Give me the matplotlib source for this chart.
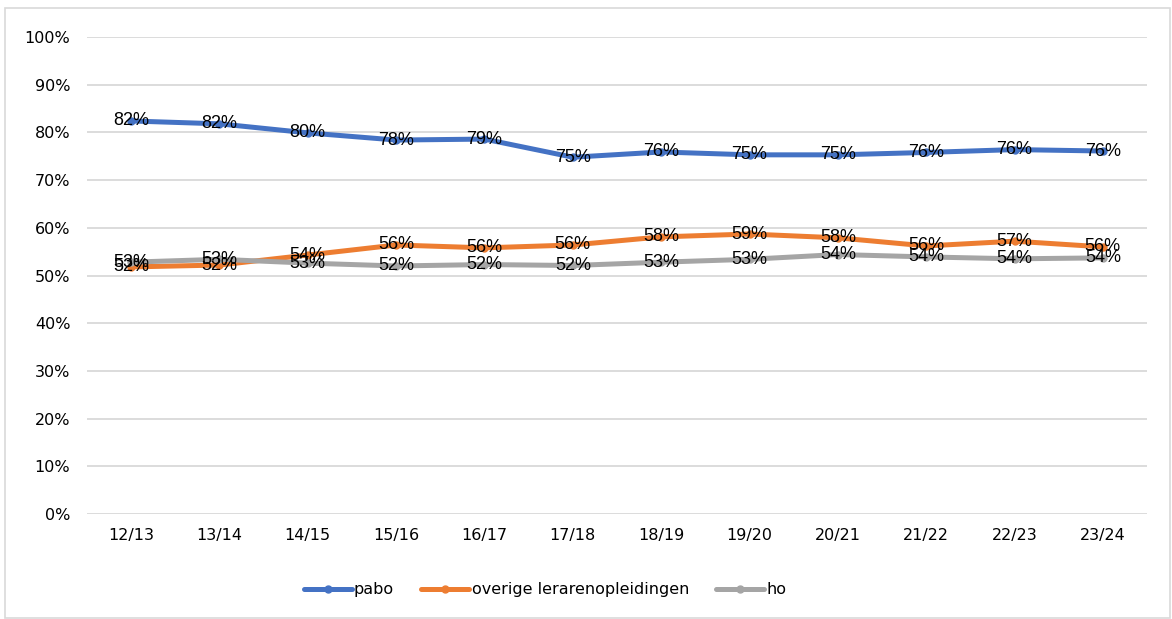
import matplotlib
matplotlib.use("Agg")
import matplotlib.pyplot as plt
from matplotlib.patches import Rectangle
from matplotlib import font_manager

categories = ["12/13", "13/14", "14/15", "15/16", "16/17", "17/18",
              "18/19", "19/20", "20/21", "21/22", "22/23", "23/24"]
pabo = [82.4, 81.8, 79.9, 78.4, 78.6, 74.8, 75.9, 75.3, 75.3, 75.8, 76.4, 76.1]
overige = [51.8, 52.2, 54.3, 56.4, 55.8, 56.4, 58.1, 58.7, 57.9, 56.2, 57.2, 56.0]
ho = [52.8, 53.4, 52.6, 52.0, 52.3, 52.1, 52.8, 53.4, 54.4, 53.9, 53.5, 53.7]
series_names = ["pabo", "overige lerarenopleidingen", "ho"]
colors = ["#4472C4", "#ED7D31", "#A5A5A5"]
yticks = list(range(0, 101, 10))

plt.rcParams['font.family'] = ['DejaVu Sans']
installed = {f.name for f in font_manager.fontManager.ttflist}
label_family = ['Liberation Sans Narrow', 'Liberation Sans', 'DejaVu Sans']
label_family = [f for f in label_family if f in installed] or ['DejaVu Sans']

fig = plt.figure(figsize=(11.72, 6.19), dpi=100)
fig.patches.append(Rectangle((0.004, 0.002), 0.994, 0.985, transform=fig.transFigure,
                             fill=False, edgecolor="#d9d9d9", linewidth=1.2))
ax = fig.add_axes([0.0742, 0.1696, 0.9045, 0.7706])

x = list(range(len(categories)))
for name, vals, c in zip(series_names, [pabo, overige, ho], colors):
    ax.plot(x, vals, color=c, linewidth=3.6, marker="o", markersize=5,
            label=name, solid_capstyle="round", zorder=3)
for vals in [pabo, overige, ho]:
    for xi, v in zip(x, vals):
        ax.text(xi, v, f"{round(v):d}%", ha="center", va="center", fontsize=13,
                family=label_family, color="black", zorder=5)

ax.set_xlim(-0.5, len(categories) - 0.5)
ax.set_ylim(0, 100)
ax.set_yticks(yticks)
ax.set_yticklabels([f"{t}%" for t in yticks], fontsize=11.5)
ax.set_xticks(x)
ax.set_xticklabels(categories, fontsize=11.5)
ax.tick_params(length=0, pad=10)
ax.tick_params(axis='y', pad=12)
ax.grid(axis='y', color="#d9d9d9", linewidth=1.3)
ax.set_axisbelow(True)
for s in ax.spines.values():
    s.set_visible(False)

fig.legend(loc="center", bbox_to_anchor=(0.465, 0.047), ncol=3, frameon=False,
           fontsize=11.5, handlelength=3.0, columnspacing=1.7, handletextpad=0.15)

fig.savefig("out.png", dpi=100)
